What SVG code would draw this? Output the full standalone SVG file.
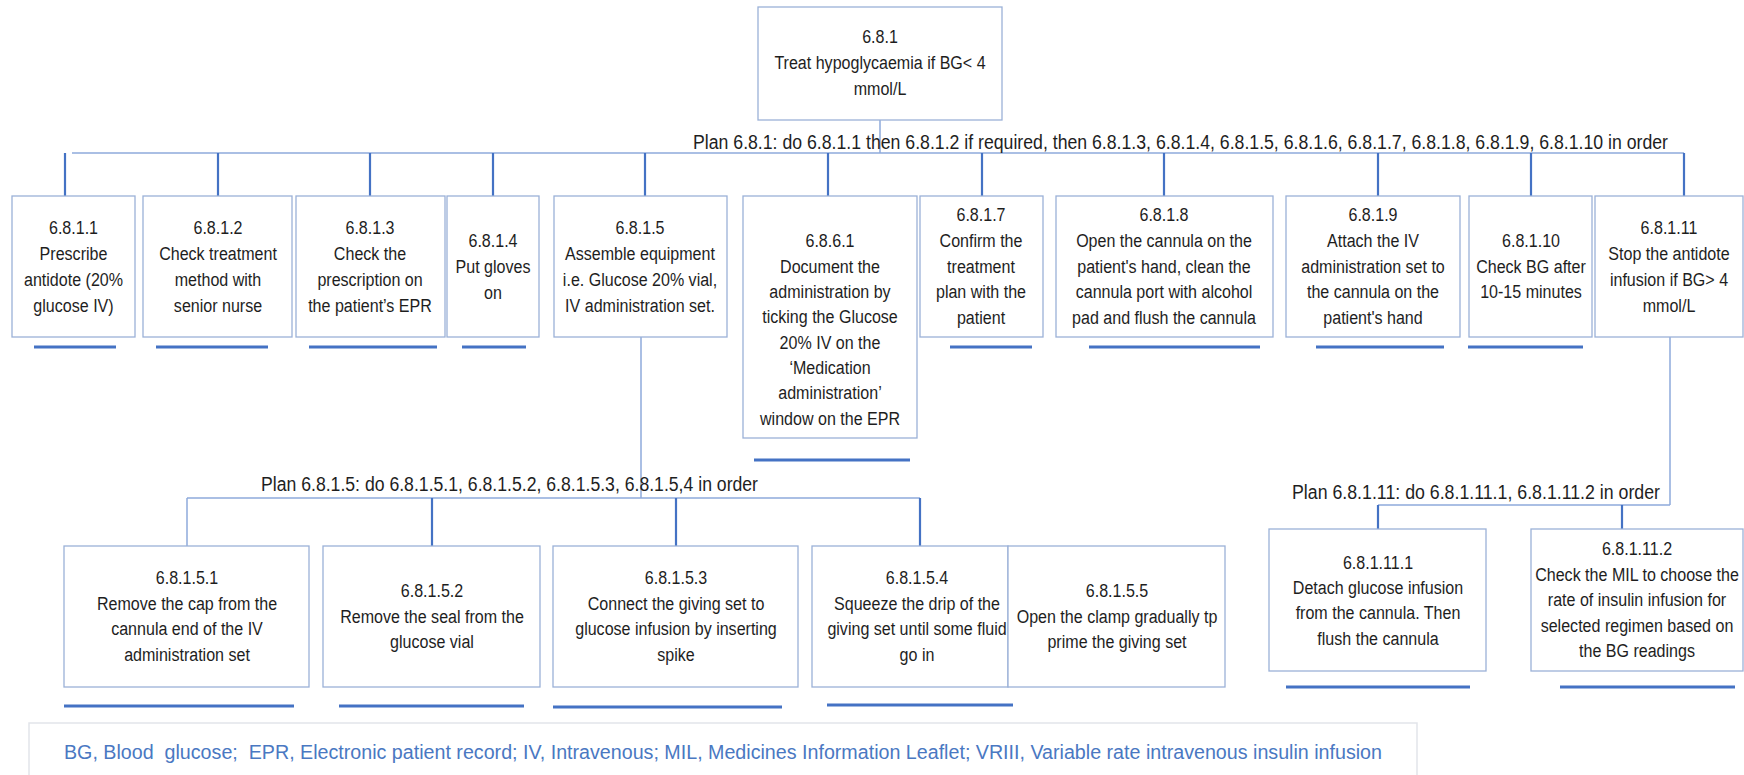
<svg xmlns="http://www.w3.org/2000/svg" width="1744" height="775" viewBox="0 0 1744 775">
  <style>
    .box { fill: #ffffff; stroke: #9bb1d8; stroke-width: 1.3; }
    .t { font-family: "Liberation Sans", Arial, sans-serif; font-size: 19px; fill: #1e1e1e; text-anchor: middle; }
    .plan { font-family: "Liberation Sans", Arial, sans-serif; font-size: 20px; fill: #1e1e1e; }
    .bar { stroke: #8eaadb; stroke-width: 1.5; fill: none; }
    .drop { stroke: #4472c4; stroke-width: 2.2; fill: none; }
    .ul { stroke: #4472c4; stroke-width: 3.2; fill: none; }
    .note { fill: #ffffff; stroke: #e2e5ea; stroke-width: 1.5; }
    .noteText { font-family: "Liberation Sans", Arial, sans-serif; font-size: 20px; fill: #4a78c2; }
  </style>
  <rect width="1744" height="775" fill="#ffffff"/>

  <!-- connectors -->
  <g id="connectors">
    <!-- top task to plan bar -->
    <line class="bar" x1="880" y1="120" x2="880" y2="153"/>
    <line class="bar" x1="72" y1="153" x2="1684" y2="153"/>
    <g class="drop">
      <line x1="65" y1="153" x2="65" y2="196"/>
      <line x1="218" y1="153" x2="218" y2="196"/>
      <line x1="370" y1="153" x2="370" y2="196"/>
      <line x1="493" y1="153" x2="493" y2="196"/>
      <line x1="645" y1="153" x2="645" y2="196"/>
      <line x1="828" y1="153" x2="828" y2="196"/>
      <line x1="982" y1="153" x2="982" y2="196"/>
      <line x1="1164" y1="153" x2="1164" y2="196"/>
      <line x1="1378" y1="153" x2="1378" y2="196"/>
      <line x1="1531" y1="153" x2="1531" y2="196"/>
      <line x1="1684" y1="153" x2="1684" y2="196"/>
    </g>
    <!-- 6.8.1.5 subtasks -->
    <line class="bar" x1="641" y1="337" x2="641" y2="498"/>
    <line class="bar" x1="187" y1="498" x2="920" y2="498"/>
    <line class="bar" x1="187" y1="498" x2="187" y2="546"/>
    <g class="drop">
      <line x1="432" y1="498" x2="432" y2="546"/>
      <line x1="676" y1="498" x2="676" y2="546"/>
      <line x1="920" y1="498" x2="920" y2="546"/>
    </g>
    <!-- 6.8.1.11 subtasks -->
    <line class="bar" x1="1670" y1="337" x2="1670" y2="505"/>
    <line class="bar" x1="1378" y1="505" x2="1670" y2="505"/>
    <g class="drop">
      <line x1="1378" y1="505" x2="1378" y2="529"/>
      <line x1="1622" y1="505" x2="1622" y2="529"/>
    </g>
    <!-- end-of-branch underlines -->
    <g class="ul">
      <line x1="34" y1="347" x2="116" y2="347"/>
      <line x1="156" y1="347" x2="268" y2="347"/>
      <line x1="309" y1="347" x2="437" y2="347"/>
      <line x1="462" y1="347" x2="526" y2="347"/>
      <line x1="754" y1="460" x2="910" y2="460"/>
      <line x1="950" y1="347" x2="1032" y2="347"/>
      <line x1="1089" y1="347" x2="1260" y2="347"/>
      <line x1="1316" y1="347" x2="1444" y2="347"/>
      <line x1="1468" y1="347" x2="1583" y2="347"/>
      <line x1="64" y1="706" x2="294" y2="706"/>
      <line x1="339" y1="706" x2="524" y2="706"/>
      <line x1="553" y1="707" x2="782" y2="707"/>
      <line x1="827" y1="705" x2="1013" y2="705"/>
      <line x1="1286" y1="687" x2="1470" y2="687"/>
      <line x1="1560" y1="687" x2="1735" y2="687"/>
    </g>
  </g>

  <!-- plans -->
  <g id="plans">
    <text class="plan" x="693" y="149" textLength="975" lengthAdjust="spacingAndGlyphs">Plan 6.8.1: do 6.8.1.1 then 6.8.1.2 if required, then 6.8.1.3, 6.8.1.4, 6.8.1.5, 6.8.1.6, 6.8.1.7, 6.8.1.8, 6.8.1.9, 6.8.1.10 in order</text>
    <text class="plan" x="261" y="491" textLength="497" lengthAdjust="spacingAndGlyphs">Plan 6.8.1.5: do 6.8.1.5.1, 6.8.1.5.2, 6.8.1.5.3, 6.8.1.5,4 in order</text>
    <text class="plan" x="1292" y="499" textLength="368" lengthAdjust="spacingAndGlyphs">Plan 6.8.1.11: do 6.8.1.11.1, 6.8.1.11.2 in order</text>
  </g>

  <!-- tasks -->
  <g id="n681">
    <rect class="box" x="758" y="7" width="244" height="113"/>
    <text class="t" transform="translate(880 0) scale(0.845 1)"><tspan x="0" y="43">6.8.1</tspan><tspan x="0" y="69">Treat hypoglycaemia if BG&lt; 4</tspan><tspan x="0" y="95">mmol/L</tspan></text>
  </g>

  <g id="n6811">
    <rect class="box" x="12" y="196" width="123" height="141"/>
    <text class="t" transform="translate(73.5 0) scale(0.845 1)"><tspan x="0" y="234">6.8.1.1</tspan><tspan x="0" y="260">Prescribe</tspan><tspan x="0" y="286">antidote (20%</tspan><tspan x="0" y="312">glucose IV)</tspan></text>
  </g>
  <g id="n6812">
    <rect class="box" x="143" y="196" width="149" height="141"/>
    <text class="t" transform="translate(218 0) scale(0.845 1)"><tspan x="0" y="234">6.8.1.2</tspan><tspan x="0" y="260">Check treatment</tspan><tspan x="0" y="286">method with</tspan><tspan x="0" y="312">senior nurse</tspan></text>
  </g>
  <g id="n6813">
    <rect class="box" x="296" y="196" width="149" height="141"/>
    <text class="t" transform="translate(370 0) scale(0.845 1)"><tspan x="0" y="234">6.8.1.3</tspan><tspan x="0" y="260">Check the</tspan><tspan x="0" y="286">prescription on</tspan><tspan x="0" y="312">the patient’s EPR</tspan></text>
  </g>
  <g id="n6814">
    <rect class="box" x="447" y="196" width="92" height="141"/>
    <text class="t" transform="translate(493 0) scale(0.845 1)"><tspan x="0" y="247">6.8.1.4</tspan><tspan x="0" y="273">Put gloves</tspan><tspan x="0" y="299">on</tspan></text>
  </g>
  <g id="n6815">
    <rect class="box" x="554" y="196" width="173" height="141"/>
    <text class="t" transform="translate(640 0) scale(0.845 1)"><tspan x="0" y="234">6.8.1.5</tspan><tspan x="0" y="260">Assemble equipment</tspan><tspan x="0" y="286">i.e. Glucose 20% vial,</tspan><tspan x="0" y="312">IV administration set.</tspan></text>
  </g>
  <g id="n6861">
    <rect class="box" x="743" y="196" width="174" height="242"/>
    <text class="t" transform="translate(830 0) scale(0.845 1)"><tspan x="0" y="247">6.8.6.1</tspan><tspan x="0" y="273">Document the</tspan><tspan x="0" y="298">administration by</tspan><tspan x="0" y="323">ticking the Glucose</tspan><tspan x="0" y="349">20% IV on the</tspan><tspan x="0" y="374">‘Medication</tspan><tspan x="0" y="399">administration’</tspan><tspan x="0" y="425">window on the EPR</tspan></text>
  </g>
  <g id="n6817">
    <rect class="box" x="920" y="196" width="123" height="141"/>
    <text class="t" transform="translate(981 0) scale(0.845 1)"><tspan x="0" y="221">6.8.1.7</tspan><tspan x="0" y="247">Confirm the</tspan><tspan x="0" y="273">treatment</tspan><tspan x="0" y="298">plan with the</tspan><tspan x="0" y="324">patient</tspan></text>
  </g>
  <g id="n6818">
    <rect class="box" x="1056" y="196" width="217" height="141"/>
    <text class="t" transform="translate(1164 0) scale(0.845 1)"><tspan x="0" y="221">6.8.1.8</tspan><tspan x="0" y="247">Open the cannula on the</tspan><tspan x="0" y="273">patient's hand, clean the</tspan><tspan x="0" y="298">cannula port with alcohol</tspan><tspan x="0" y="324">pad and flush the cannula</tspan></text>
  </g>
  <g id="n6819">
    <rect class="box" x="1286" y="196" width="174" height="141"/>
    <text class="t" transform="translate(1373 0) scale(0.845 1)"><tspan x="0" y="221">6.8.1.9</tspan><tspan x="0" y="247">Attach the IV</tspan><tspan x="0" y="273">administration set to</tspan><tspan x="0" y="298">the cannula on the</tspan><tspan x="0" y="324">patient's hand</tspan></text>
  </g>
  <g id="n68110">
    <rect class="box" x="1469" y="196" width="123" height="141"/>
    <text class="t" transform="translate(1531 0) scale(0.845 1)"><tspan x="0" y="247">6.8.1.10</tspan><tspan x="0" y="273">Check BG after</tspan><tspan x="0" y="298">10-15 minutes</tspan></text>
  </g>
  <g id="n68111">
    <rect class="box" x="1595" y="196" width="148" height="141"/>
    <text class="t" transform="translate(1669 0) scale(0.845 1)"><tspan x="0" y="234">6.8.1.11</tspan><tspan x="0" y="260">Stop the antidote</tspan><tspan x="0" y="286">infusion if BG&gt; 4</tspan><tspan x="0" y="312">mmol/L</tspan></text>
  </g>

  <g id="n68151">
    <rect class="box" x="64" y="546" width="245" height="141"/>
    <text class="t" transform="translate(187 0) scale(0.845 1)"><tspan x="0" y="584">6.8.1.5.1</tspan><tspan x="0" y="610">Remove the cap from the</tspan><tspan x="0" y="635">cannula end of the IV</tspan><tspan x="0" y="661">administration set</tspan></text>
  </g>
  <g id="n68152">
    <rect class="box" x="323" y="546" width="217" height="141"/>
    <text class="t" transform="translate(432 0) scale(0.845 1)"><tspan x="0" y="597">6.8.1.5.2</tspan><tspan x="0" y="623">Remove the seal from the</tspan><tspan x="0" y="648">glucose vial</tspan></text>
  </g>
  <g id="n68153">
    <rect class="box" x="553" y="546" width="245" height="141"/>
    <text class="t" transform="translate(676 0) scale(0.845 1)"><tspan x="0" y="584">6.8.1.5.3</tspan><tspan x="0" y="610">Connect the giving set to</tspan><tspan x="0" y="635">glucose infusion by inserting</tspan><tspan x="0" y="661">spike</tspan></text>
  </g>
  <g id="n68154">
    <rect class="box" x="812" y="546" width="196" height="141"/>
    <text class="t" transform="translate(917 0) scale(0.845 1)"><tspan x="0" y="584">6.8.1.5.4</tspan><tspan x="0" y="610">Squeeze the drip of the</tspan><tspan x="0" y="635">giving set until some fluid</tspan><tspan x="0" y="661">go in</tspan></text>
  </g>
  <g id="n68155">
    <rect class="box" x="1008" y="546" width="217" height="141"/>
    <text class="t" transform="translate(1117 0) scale(0.845 1)"><tspan x="0" y="597">6.8.1.5.5</tspan><tspan x="0" y="623">Open the clamp gradually tp</tspan><tspan x="0" y="648">prime the giving set</tspan></text>
  </g>

  <g id="n681111">
    <rect class="box" x="1269" y="529" width="217" height="142"/>
    <text class="t" transform="translate(1378 0) scale(0.845 1)"><tspan x="0" y="569">6.8.1.11.1</tspan><tspan x="0" y="594">Detach glucose infusion</tspan><tspan x="0" y="619">from the cannula. Then</tspan><tspan x="0" y="645">flush the cannula</tspan></text>
  </g>
  <g id="n681112">
    <rect class="box" x="1531" y="529" width="212" height="142"/>
    <text class="t" transform="translate(1637 0) scale(0.845 1)"><tspan x="0" y="555">6.8.1.11.2</tspan><tspan x="0" y="581">Check the MIL to choose the</tspan><tspan x="0" y="606">rate of insulin infusion for</tspan><tspan x="0" y="632">selected regimen based on</tspan><tspan x="0" y="657">the BG readings</tspan></text>
  </g>

  <!-- abbreviations -->
  <g id="abbreviations">
    <rect class="note" x="29" y="723" width="1388" height="70"/>
    <text class="noteText" x="64" y="759" textLength="1318" lengthAdjust="spacingAndGlyphs" xml:space="preserve">BG, Blood  glucose;  EPR, Electronic patient record; IV, Intravenous; MIL, Medicines Information Leaflet; VRIII, Variable rate intravenous insulin infusion</text>
  </g>
</svg>
